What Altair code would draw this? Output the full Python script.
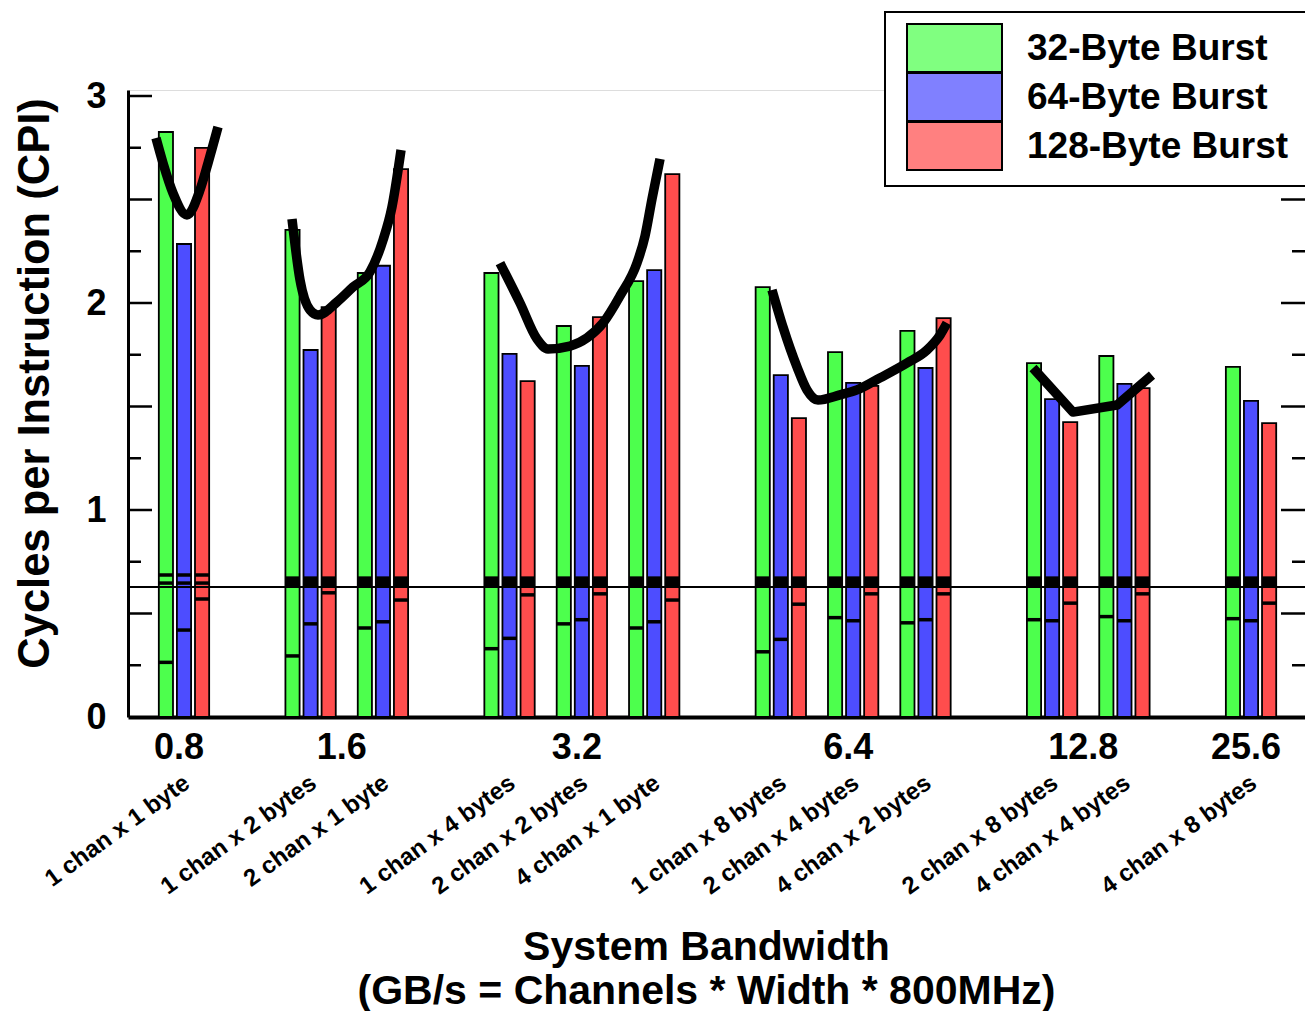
import altair as alt
import pandas as pd

# ---------------- data ----------------
series = ["32-Byte Burst", "64-Byte Burst", "128-Byte Burst"]
group_labels = ["0.8", "1.6", "3.2", "6.4", "12.8", "25.6"]
config_group = ["0.8", "1.6", "1.6", "3.2", "3.2", "3.2", "6.4", "6.4", "6.4", "12.8", "12.8", "25.6"]
config_label = ["1 chan x 1 byte", "1 chan x 2 bytes", "2 chan x 1 byte",
                "1 chan x 4 bytes", "2 chan x 2 bytes", "4 chan x 1 byte",
                "1 chan x 8 bytes", "2 chan x 4 bytes", "4 chan x 2 bytes",
                "2 chan x 8 bytes", "4 chan x 4 bytes", "4 chan x 8 bytes"]

cpi_32 = [2.826, 2.353, 2.145, 2.145, 1.889, 2.106, 2.077, 1.763, 1.865, 1.710, 1.744, 1.691]
cpi_64 = [2.285, 1.773, 2.180, 1.754, 1.696, 2.159, 1.652, 1.614, 1.686, 1.536, 1.609, 1.527]
cpi_128 = [2.749, 1.980, 2.647, 1.623, 1.932, 2.623, 1.444, 1.600, 1.927, 1.425, 1.589, 1.420]

lower_32 = [0.264, 0.295, 0.430, 0.330, 0.450, 0.430, 0.315, 0.480, 0.455, 0.470, 0.485, 0.475]
lower_64 = [0.420, 0.450, 0.460, 0.380, 0.470, 0.460, 0.375, 0.465, 0.470, 0.465, 0.465, 0.465]
lower_128 = [0.570, 0.600, 0.565, 0.590, 0.595, 0.565, 0.545, 0.595, 0.595, 0.550, 0.595, 0.550]

upper_lo = [0.647] + [0.632] * 11
upper_hi = [0.686] + [0.671] * 11
upper_solid = [False] + [True] * 11

ref_line = [0.628]

curve_x_08 = [-0.387, -0.290, -0.152, 0.041, 0.221, 0.332, 0.470]
curve_y_08 = [2.797, 2.676, 2.531, 2.425, 2.546, 2.676, 2.850]
curve_x_16 = [1.493, 1.604, 1.742, 1.852, 2.115, 2.336, 2.571, 2.751, 2.875, 3.000]
curve_y_16 = [2.406, 2.111, 1.966, 1.942, 2.005, 2.077, 2.150, 2.304, 2.464, 2.739]
curve_x_32 = [4.368, 4.645, 4.880, 5.032, 5.336, 5.571, 5.792, 6.027, 6.262, 6.373, 6.469, 6.580]
curve_y_32 = [2.193, 2.000, 1.826, 1.778, 1.792, 1.831, 1.903, 2.034, 2.193, 2.324, 2.502, 2.696]
curve_x_64 = [8.128, 8.280, 8.474, 8.612, 8.764, 9.068, 9.303, 9.621, 9.994, 10.271, 10.451, 10.547]
curve_y_64 = [2.063, 1.884, 1.691, 1.580, 1.531, 1.556, 1.580, 1.638, 1.710, 1.773, 1.845, 1.903]
curve_x_128 = [11.736, 12.289, 12.897, 13.381]
curve_y_128 = [1.686, 1.473, 1.507, 1.652]

major_ticks = [0.5, 1.0, 1.5, 2.0, 2.5, 3.0]
minor_ticks = [0.25, 0.75, 1.25, 1.75, 2.25, 2.75]

# ---------------- layout / style ----------------
W, H = 1177, 627
FONT = "Liberation Sans, Arial, Helvetica, sans-serif"
bar_colors = ["#4dff4d", "#4d4dff", "#ff4d4d"]
legend_colors = ["#80ff80", "#8080ff", "#ff8080"]
GROUP_GAP = 0.75
BAR_OFFSET = 0.25
BAR_HALF = 0.098

positions = []
p = 0.0
for i, g in enumerate(config_group):
    if i > 0:
        p += 1 + (GROUP_GAP if g != config_group[i - 1] else 0)
    positions.append(p)

group_pos = [sum(positions[i] for i in range(len(config_group)) if config_group[i] == g) /
             config_group.count(g) for g in group_labels]

rows = []
tops = [cpi_32, cpi_64, cpi_128]
lows = [lower_32, lower_64, lower_128]
for i in range(len(config_label)):
    for j, s in enumerate(series):
        c = positions[i] + (j - 1) * BAR_OFFSET
        rows.append(dict(series=s, x=c - BAR_HALF, x2=c + BAR_HALF, top=tops[j][i], base=0.0,
                         lower=lows[j][i], ulo=upper_lo[i], uhi=upper_hi[i],
                         solid=1 if upper_solid[i] else 0))
bars_df = pd.DataFrame(rows)

curve_rows = []
for name, xs, ys in [("0.8", curve_x_08, curve_y_08), ("1.6", curve_x_16, curve_y_16),
                     ("3.2", curve_x_32, curve_y_32), ("6.4", curve_x_64, curve_y_64)]:
    for k, (a, b) in enumerate(zip(xs, ys)):
        curve_rows.append(dict(grp=name, i=k, x=a, top=b))
curves_df = pd.DataFrame(curve_rows)
curve128_df = pd.DataFrame(dict(grp="12.8", i=list(range(len(curve_x_128))), x=curve_x_128, top=curve_y_128))

cfg_df = pd.DataFrame(dict(x=positions, label=config_label))
grp_df = pd.DataFrame(dict(x=group_pos, label=group_labels))

XS = alt.Scale(domain=[-0.774, 15.496], nice=False, zero=False)
YS = alt.Scale(domain=[0, 3.029], nice=False, zero=True)
AX = alt.Axis(labels=False, ticks=False, grid=False, domainWidth=4, domainColor="black",
              title=["System Bandwidth", "(GB/s = Channels * Width * 800MHz)"],
              titleFont=FONT, titleFontSize=41, titleFontWeight="bold", titleLineHeight=44,
              titleX=578, titleY=242, titleAlign="center", titleBaseline="alphabetic", titleColor="black")
AY = alt.Axis(values=[0, 1, 2, 3], format="d", ticks=False, grid=False, domainWidth=3, domainColor="black",
              labelFont=FONT, labelFontSize=36, labelFontWeight="bold", labelPadding=22, labelColor="black",
              title="Cycles per Instruction (CPI)", titleFont=FONT, titleFontSize=43.5, titleFontWeight="bold",
              titleX=-93, titleY=293, titleAngle=270, titleAlign="center", titleBaseline="middle",
              titleColor="black")


def X(f):
    return alt.X(f, type="quantitative", scale=XS, axis=AX)


def Y(f):
    return alt.Y(f, type="quantitative", scale=YS, axis=AY)


bars = alt.Chart(bars_df).mark_bar(stroke="black", strokeWidth=1.8).encode(
    x=X("x"), x2="x2", y=Y("top"), y2="base",
    color=alt.Color("series:N", scale=alt.Scale(domain=series, range=bar_colors), legend=None),
)
lower_rules = alt.Chart(bars_df).mark_rule(color="black", strokeWidth=3.5).encode(
    x=X("x"), x2="x2", y=Y("lower"))
ulo_rules = alt.Chart(bars_df).mark_rule(color="black", strokeWidth=3.5).encode(
    x=X("x"), x2="x2", y=Y("ulo"))
uhi_rules = alt.Chart(bars_df).mark_rule(color="black", strokeWidth=3.5).encode(
    x=X("x"), x2="x2", y=Y("uhi"))
band = alt.Chart(bars_df).transform_filter("datum.solid == 1").mark_rect(color="black").encode(
    x=X("x"), x2="x2", y=Y("ulo"), y2="uhi")

hline = alt.Chart(pd.DataFrame(dict(top=ref_line))).mark_rule(color="black", strokeWidth=2).encode(
    y=Y("top"), x=alt.value(0), x2=alt.value(W))

curves = alt.Chart(curves_df).mark_line(color="black", strokeWidth=9.5, interpolate="monotone").encode(
    x=X("x"), y=Y("top"), detail="grp:N", order="i:Q")
curve128 = alt.Chart(curve128_df).mark_line(color="black", strokeWidth=9.5, strokeJoin="round").encode(
    x=X("x"), y=Y("top"), order="i:Q")

tick_layers = []
for vals, ln in [(major_ticks, 24), (minor_ticks, 13)]:
    tdf = pd.DataFrame(dict(top=vals))
    tick_layers.append(alt.Chart(tdf).mark_rule(color="black", strokeWidth=2.5).encode(
        y=Y("top"), x=alt.value(0), x2=alt.value(ln)))
    tick_layers.append(alt.Chart(tdf).mark_rule(color="black", strokeWidth=2.5).encode(
        y=Y("top"), x=alt.value(W), x2=alt.value(W - ln)))

cfg_text = alt.Chart(cfg_df).mark_text(angle=324, align="right", baseline="middle", font=FONT,
                                       fontSize=24, fontWeight="bold", color="black", dx=4).encode(
    x=X("x"), y=alt.value(H + 66), text="label:N")
grp_text = alt.Chart(grp_df).mark_text(align="center", baseline="middle", font=FONT, fontSize=36,
                                       fontWeight="bold", color="black", dx=-5).encode(
    x=X("x"), y=alt.value(H + 31), text="label:N")

one = pd.DataFrame(dict(k=[0]))
legend_layers = [alt.Chart(one).mark_rect(fill="white", stroke="black", strokeWidth=2).encode(
    x=alt.value(757), x2=alt.value(1200), y=alt.value(-78), y2=alt.value(96))]
for idx, (s, col) in enumerate(zip(series, legend_colors)):
    y0 = -66 + idx * 49
    legend_layers.append(alt.Chart(one).mark_rect(fill=col, stroke="black", strokeWidth=2).encode(
        x=alt.value(779), x2=alt.value(874), y=alt.value(y0), y2=alt.value(y0 + 48)))
    legend_layers.append(alt.Chart(pd.DataFrame(dict(t=[s]))).mark_text(
        align="left", baseline="middle", font=FONT, fontSize=37, fontWeight="bold", color="black").encode(
        x=alt.value(899), y=alt.value(y0 + 25), text="t:N"))

chart = alt.layer(
    bars, lower_rules, ulo_rules, uhi_rules, band, hline, curves, curve128,
    *tick_layers, cfg_text, grp_text, *legend_layers
).properties(
    width=W, height=H,
    autosize=alt.AutoSizeParams(type="none"),
    padding={"left": 120, "top": 82, "right": 0, "bottom": 294},
).configure_view(stroke="black", strokeWidth=2).configure(background="white")

chart.save("out.html", embed_options={"renderer": "svg", "actions": False})
